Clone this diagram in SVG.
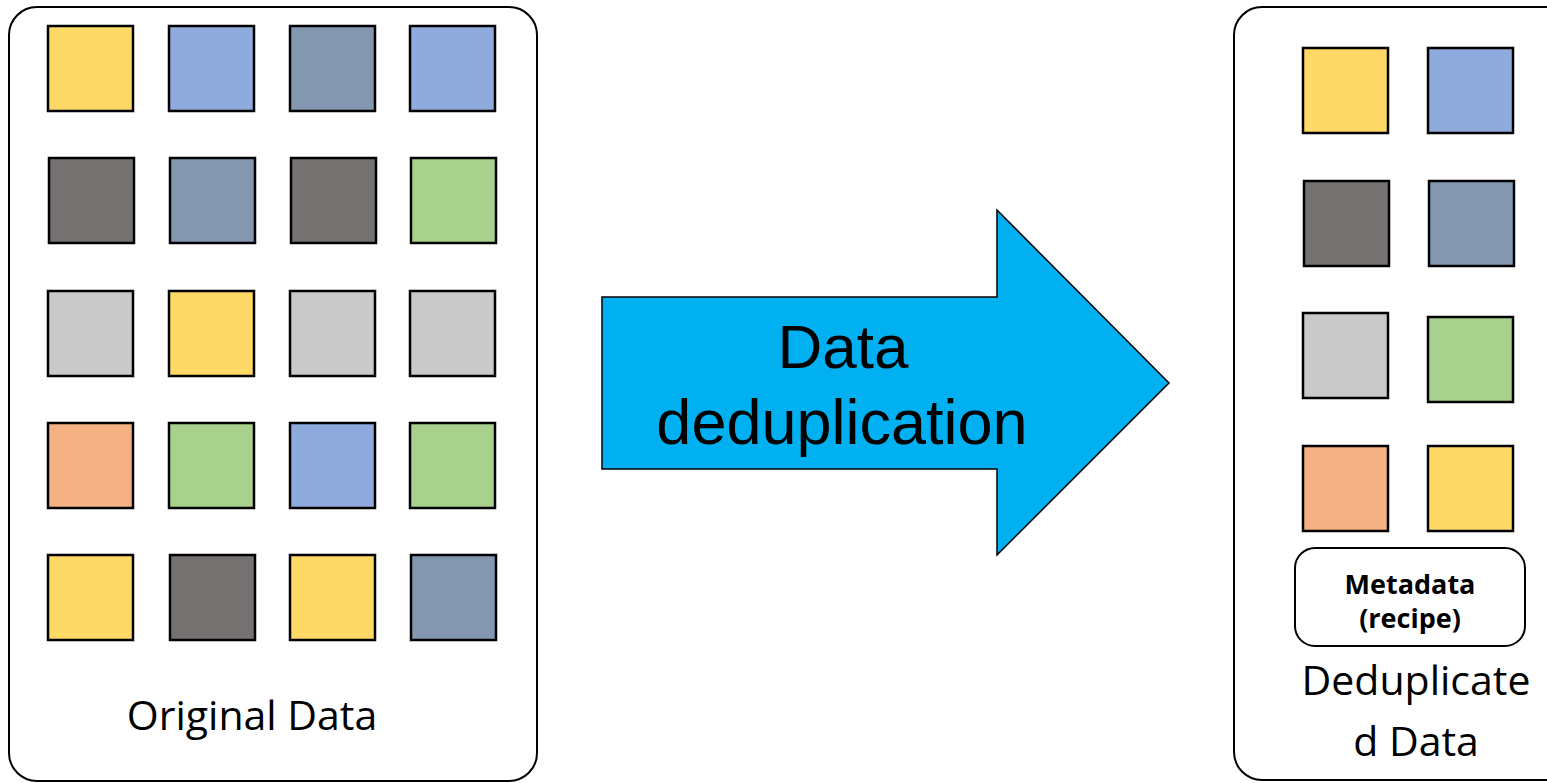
<svg xmlns="http://www.w3.org/2000/svg" width="1547" height="783" viewBox="0 0 1547 783">
<style>
.box{fill:#fff;stroke:#000;stroke-width:2}
.sq{stroke:#000;stroke-width:2.5}
.y{fill:#FFD966}.b{fill:#8FAADC}.s{fill:#8497B0}.d{fill:#767171}.g{fill:#A9D18E}.l{fill:#C9C9C9}.o{fill:#F4B183}
.lbl{font-family:"Open Sans","Noto Sans",sans-serif;font-size:41px;fill:#000;text-anchor:middle}
.meta{font-family:"Open Sans","Noto Sans",sans-serif;font-size:27px;font-weight:bold;fill:#000;text-anchor:middle}
.arr{font-family:"Liberation Sans",Arial,sans-serif;font-size:62px;fill:#000;text-anchor:middle}
</style>
<rect width="1547" height="783" fill="#fff"/>
<g id="original">
<rect class="box" x="9" y="7" width="528" height="774" rx="28"/>
<rect class="sq y" x="48" y="26" width="85" height="85"/>
<rect class="sq b" x="169" y="26" width="85" height="85"/>
<rect class="sq s" x="290" y="26" width="85" height="85"/>
<rect class="sq b" x="410" y="26" width="85" height="85"/>
<rect class="sq d" x="49" y="158" width="85" height="85"/>
<rect class="sq s" x="170" y="158" width="85" height="85"/>
<rect class="sq d" x="291" y="158" width="85" height="85"/>
<rect class="sq g" x="411" y="158" width="85" height="85"/>
<rect class="sq l" x="48" y="291" width="85" height="85"/>
<rect class="sq y" x="169" y="291" width="85" height="85"/>
<rect class="sq l" x="290" y="291" width="85" height="85"/>
<rect class="sq l" x="410" y="291" width="85" height="85"/>
<rect class="sq o" x="48" y="423" width="85" height="85"/>
<rect class="sq g" x="169" y="423" width="85" height="85"/>
<rect class="sq b" x="290" y="423" width="85" height="85"/>
<rect class="sq g" x="410" y="423" width="85" height="85"/>
<rect class="sq y" x="48" y="555" width="85" height="85"/>
<rect class="sq d" x="170" y="555" width="85" height="85"/>
<rect class="sq y" x="290" y="555" width="85" height="85"/>
<rect class="sq s" x="411" y="555" width="85" height="85"/>
<text class="lbl" x="252" y="730">Original Data</text>
</g>
<g id="connectors">
<g id="arrow">
<polygon points="602,297 997,297 997,210 1169,383 997,555 997,469 602,469" fill="#00B0F0" stroke="#000" stroke-width="1.5"/>
<text class="arr" x="843" y="368">Data</text>
<text class="arr" x="842" y="444" style="font-size:63px">deduplication</text>
</g>
</g>
<g id="deduplicated">
<rect class="box" x="1234" y="7" width="340" height="773" rx="28"/>
<rect class="sq y" x="1303" y="48" width="85" height="85"/>
<rect class="sq b" x="1428" y="48" width="85" height="85"/>
<rect class="sq d" x="1304" y="181" width="85" height="85"/>
<rect class="sq s" x="1429" y="181" width="85" height="85"/>
<rect class="sq l" x="1303" y="313" width="85" height="85"/>
<rect class="sq g" x="1428" y="317" width="85" height="85"/>
<rect class="sq o" x="1303" y="446" width="85" height="85"/>
<rect class="sq y" x="1428" y="446" width="85" height="85"/>
<g id="metadata">
<rect class="box" x="1295" y="548" width="230" height="98" rx="20"/>
<text class="meta" x="1410" y="594">Metadata</text>
<text class="meta" x="1410" y="628">(recipe)</text>
</g>
<text class="lbl" x="1416" y="695">Deduplicate</text>
<text class="lbl" x="1416" y="756">d Data</text>
</g>
</svg>
